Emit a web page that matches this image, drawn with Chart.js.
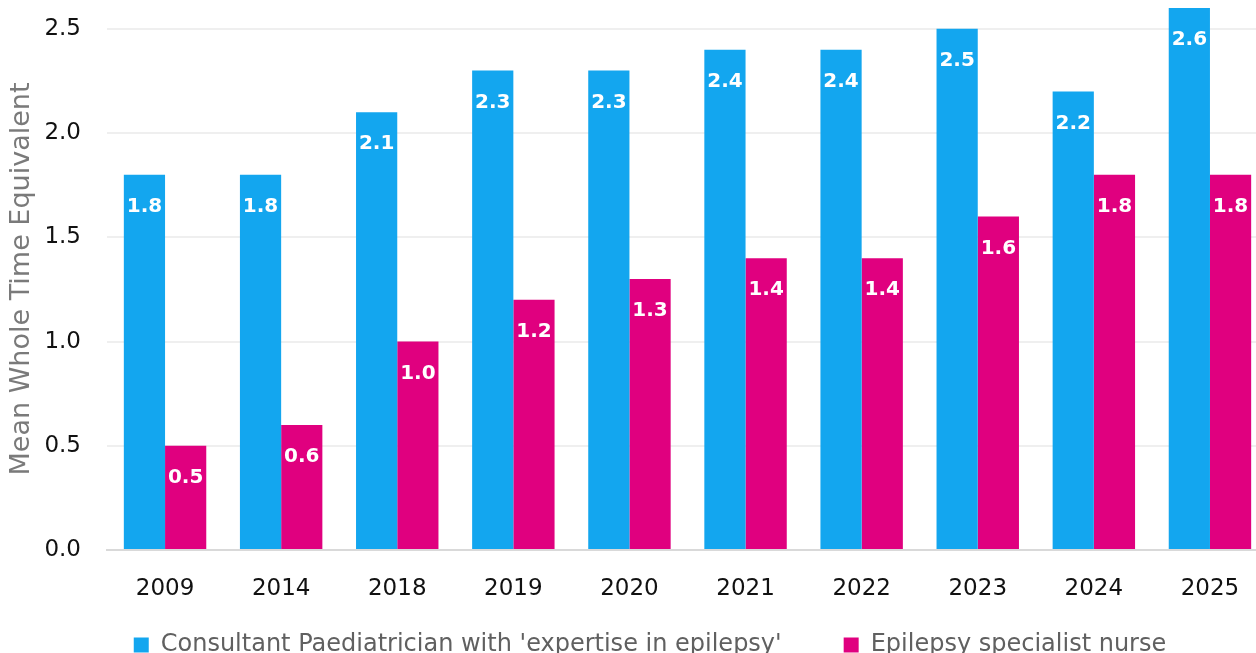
<!DOCTYPE html>
<html>
<head>
<meta charset="utf-8">
<script src="https://cdn.jsdelivr.net/npm/chart.js@4"></script>
<style>
  html, body { margin: 0; padding: 0; overflow: hidden; background: #fff; }
  #wrap { width: 1268px; height: 699px; }
</style>
</head>
<body>
<div id="wrap"><canvas id="myChart"></canvas></div>
<script>
// values
const years = ['2009', '2014', '2018', '2019', '2020', '2021', '2022', '2023', '2024', '2025'];
const consultant = [1.8, 1.8, 2.1, 2.3, 2.3, 2.4, 2.4, 2.5, 2.2, 2.6];
const nurse = [0.5, 0.6, 1.0, 1.2, 1.3, 1.4, 1.4, 1.6, 1.8, 1.8];
const yTicks = [0, 0.5, 1.0, 1.5, 2.0, 2.5];

const FONT = "'DejaVu Sans', sans-serif";

// white numbers inside the top of each bar
const barLabels = {
    id: 'barLabels',
    afterDatasetsDraw(chart) {
        const c = chart.ctx;
        c.save();
        c.fillStyle = '#fff';
        c.font = 'bold 20px ' + FONT;
        c.textAlign = 'center';
        c.textBaseline = 'middle';
        chart.data.datasets.forEach((ds, i) => {
            chart.getDatasetMeta(i).data.forEach((bar, j) => {
                c.fillText(ds.data[j].toFixed(1), bar.x, bar.y + 32);
            });
        });
        c.restore();
    }
};

// legend needs wide gaps between items but sits close under the axis
const legendUp = {
    id: 'legendUp',
    afterLayout(chart) {
        chart.legend.top -= 32;
        chart.legend.bottom -= 32;
        chart.legend.left += 16;
        chart.legend.right += 16;
    }
};

var ctx = document.getElementById('myChart');
var myChart = new Chart(ctx, {
    type: 'bar',
    data: {
        labels: years,
        datasets: [{
            label: "Consultant Paediatrician with 'expertise in epilepsy'",
            data: consultant,
            backgroundColor: '#13a6ef',
            categoryPercentage: 0.71,
            barPercentage: 1.0
        }, {
            label: 'Epilepsy specialist nurse',
            data: nurse,
            backgroundColor: '#e0007f',
            categoryPercentage: 0.71,
            barPercentage: 1.0
        }]
    },
    options: {
        responsive: true,
        maintainAspectRatio: false,
        animation: false,
        layout: { padding: { top: 8, left: 0, right: 0, bottom: 0 } },
        plugins: {
            legend: {
                position: 'bottom',
                labels: {
                    font: { family: FONT, size: 24 },
                    color: '#606060',
                    boxWidth: 15,
                    boxHeight: 15,
                    padding: 62
                }
            },
            tooltip: { enabled: false }
        },
        scales: {
            x: {
                afterFit(scale) {
                    scale.height = 53;
                    scale.paddingLeft = 0;
                    scale.paddingRight = 0;
                },
                grid: { display: false, drawTicks: false },
                border: { color: '#d9d9d9', width: 2 },
                ticks: { font: { family: FONT, size: 23 }, color: '#111', padding: 25 }
            },
            y: {
                min: 0,
                max: 2.6,
                afterBuildTicks(scale) {
                    scale.ticks = yTicks.map(v => ({ value: v }));
                },
                afterFit(scale) {
                    scale.width = 107;
                    scale.paddingTop = 0;
                    scale.paddingBottom = 0;
                },
                grid: { color: '#efefef', lineWidth: 2, drawTicks: false },
                border: { display: false },
                ticks: {
                    font: { family: FONT, size: 23 },
                    color: '#111',
                    padding: 26,
                    callback: v => v.toFixed(1)
                },
                title: {
                    display: true,
                    text: 'Mean Whole Time Equivalent',
                    font: { family: FONT, size: 27 },
                    color: '#7a7a7a',
                    padding: { top: 6, bottom: 0 }
                }
            }
        }
    },
    plugins: [barLabels, legendUp]
});
</script>
</body>
</html>
